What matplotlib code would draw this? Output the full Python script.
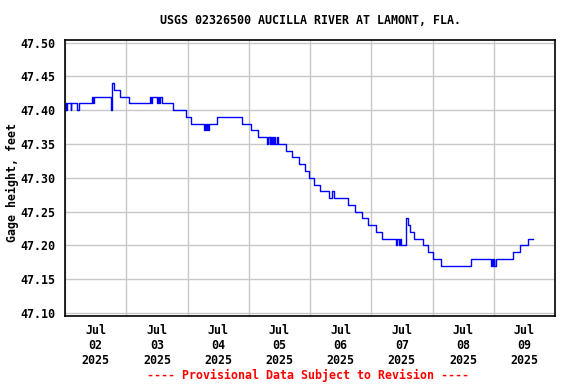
import datetime as dt
import matplotlib
matplotlib.use("Agg")
import matplotlib.pyplot as plt
import matplotlib.dates as mdates
from matplotlib.ticker import MultipleLocator, FormatStrFormatter

# ---- data (hours since 2025-07-02 00:00, gage height in feet; step series) ----
hours = [0, 0.25, 0.5, 0.75, 2.25, 2.5, 4.75, 5.5, 10.5, 11, 11.25, 18, 18.25,
         19.25, 21.5, 25, 33.25, 33.75, 34.25, 36, 36.25, 37, 37.25, 38,
         42.5, 47.25, 49.5, 54.5, 55.0, 55.25, 55.75, 56.0, 56.5, 59.5, 69.5,
         73, 75.75, 79.25, 79.5, 80.25, 80.5, 80.75, 81.0, 81.5, 81.75, 82.25,
         83, 83.5, 86.75, 89, 91.5, 94, 95.75, 97.75, 99.75, 103.5, 104.75,
         105.25, 111, 113.75, 116.5, 118.75, 121.75, 124.25, 129.75, 130.25,
         130.75, 131.25, 131.75, 133.5, 133.75, 134.5, 135, 136.75, 140.25,
         142.25, 144.25, 147.5, 159.25, 167, 167.5, 167.75, 168, 168.25, 169,
         175.5, 178.25, 181.5, 183.25]
gage = [47.40, 47.41, 47.40, 47.41, 47.40, 47.41, 47.40, 47.41, 47.42, 47.41,
        47.42, 47.40, 47.44, 47.43, 47.42, 47.41, 47.42, 47.41, 47.42, 47.41,
        47.42, 47.41, 47.42, 47.41, 47.40, 47.39, 47.38, 47.37, 47.38, 47.37,
        47.38, 47.37, 47.38, 47.39, 47.38, 47.37, 47.36, 47.35, 47.36, 47.35,
        47.36, 47.35, 47.36, 47.35, 47.36, 47.35, 47.36, 47.35, 47.34, 47.33,
        47.32, 47.31, 47.30, 47.29, 47.28, 47.27, 47.28, 47.27, 47.26, 47.25,
        47.24, 47.23, 47.22, 47.21, 47.20, 47.21, 47.20, 47.21, 47.20, 47.23,
        47.24, 47.23, 47.22, 47.21, 47.20, 47.19, 47.18, 47.17, 47.18, 47.17,
        47.18, 47.17, 47.18, 47.17, 47.18, 47.19, 47.20, 47.21, 47.21]

title = "USGS 02326500 AUCILLA RIVER AT LAMONT, FLA."
ylabel = "Gage height, feet"
footer = "---- Provisional Data Subject to Revision ----"

start = dt.datetime(2025, 7, 2)
end = dt.datetime(2025, 7, 10)
times = [start + dt.timedelta(hours=h) for h in hours]

FONT = "DejaVu Sans Mono"
FS = 8.4

fig = plt.figure(figsize=(5.76, 3.84), dpi=100)
ax = fig.add_axes([65 / 576, 1 - 316 / 384, 490 / 576, 276.5 / 384])

ax.plot(times, gage, drawstyle="steps-post", color="#0000ff", lw=1.0)

ax.set_xlim(start, end)
ax.set_ylim(47.0955, 47.5045)

ax.xaxis.set_major_locator(mdates.HourLocator(byhour=[12]))
ax.xaxis.set_major_formatter(mdates.DateFormatter("%b\n%d\n%Y"))
ax.xaxis.set_minor_locator(mdates.DayLocator())
ax.yaxis.set_major_locator(MultipleLocator(0.05))
ax.yaxis.set_major_formatter(FormatStrFormatter("%.2f"))

ax.grid(False)
ax.grid(True, which="minor", axis="x", color="#c8c8c8", lw=1.0)
ax.grid(True, which="major", axis="y", color="#c8c8c8", lw=1.0)
ax.set_axisbelow(True)

ax.tick_params(axis="both", which="both", length=0)
ax.tick_params(axis="x", pad=6)
ax.tick_params(axis="y", pad=7)
for lab in ax.get_xticklabels() + ax.get_yticklabels():
    lab.set_fontfamily(FONT)
    lab.set_fontweight("bold")
    lab.set_fontsize(FS)
for lab in ax.get_xticklabels():
    lab.set_linespacing(1.2)

for sp in ax.spines.values():
    sp.set_color("black")
    sp.set_linewidth(1.2)

fig.text(310 / 576, 1 - 20 / 384, title, ha="center", va="center",
         family=FONT, weight="bold", fontsize=FS)
fig.text(12 / 576, 1 - 183 / 384, ylabel, ha="center", va="center",
         rotation=90, family=FONT, weight="bold", fontsize=FS)
fig.text(308 / 576, 1 - 375 / 384, footer, ha="center", va="center",
         family=FONT, weight="bold", fontsize=FS, color="#ff0000")

fig.savefig("out.png", dpi=100, facecolor="white")
